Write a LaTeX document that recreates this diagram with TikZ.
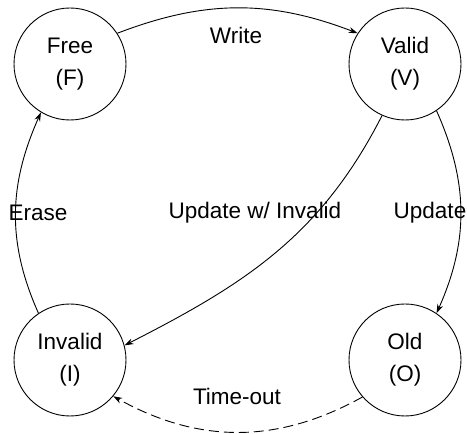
\documentclass[tikz,border=0pt]{standalone}
\usepackage{fontspec}
\setmainfont{Liberation Sans}
\usetikzlibrary{arrows.meta}
\begin{document}
\begin{tikzpicture}[x=1pt,y=1pt,
  state/.style={circle,draw,line width=0.9pt,minimum size=112pt,inner sep=0pt,
    align=center,font=\fontsize{22.5}{32}\selectfont},
  edge/.style={line width=0.9pt,-{Stealth[length=9pt,width=6pt]}},
  lbl/.style={font=\fontsize{22.5}{27}\selectfont,inner sep=0pt}]
\useasboundingbox (0,0) rectangle (467,434);
% the four page states
\node[state] (F) at (70,370) {Free\\(F)};
\node[state] (V) at (405,370) {Valid\\(V)};
\node[state] (I) at (70,74) {Invalid\\(I)};
\node[state] (O) at (405,74) {Old\\(O)};
% transitions
\draw[edge] (F.33) to[out=21,in=159] (V.147);
\draw[edge] (I.124) to[out=114,in=246] (F.239);
\draw[edge] (V.246) to[out=243,in=27] (I.15);
\draw[edge] (V.-56) to[out=294,in=66] (O.56);
\draw[edge,dash pattern=on 10pt off 5pt] (O.221) to[out=209,in=331] (I.-40);
% transition labels
\node[lbl] (lw) at (236,399) {Write};
\node[lbl] (le) at (38,221) {Erase};
\node[lbl] (lu) at (255,221) {Update w/ Invalid};
\node[lbl] (lo) at (430,221) {Update};
\node[lbl] (lt) at (237,38) {Time-out};
\end{tikzpicture}
\end{document}
